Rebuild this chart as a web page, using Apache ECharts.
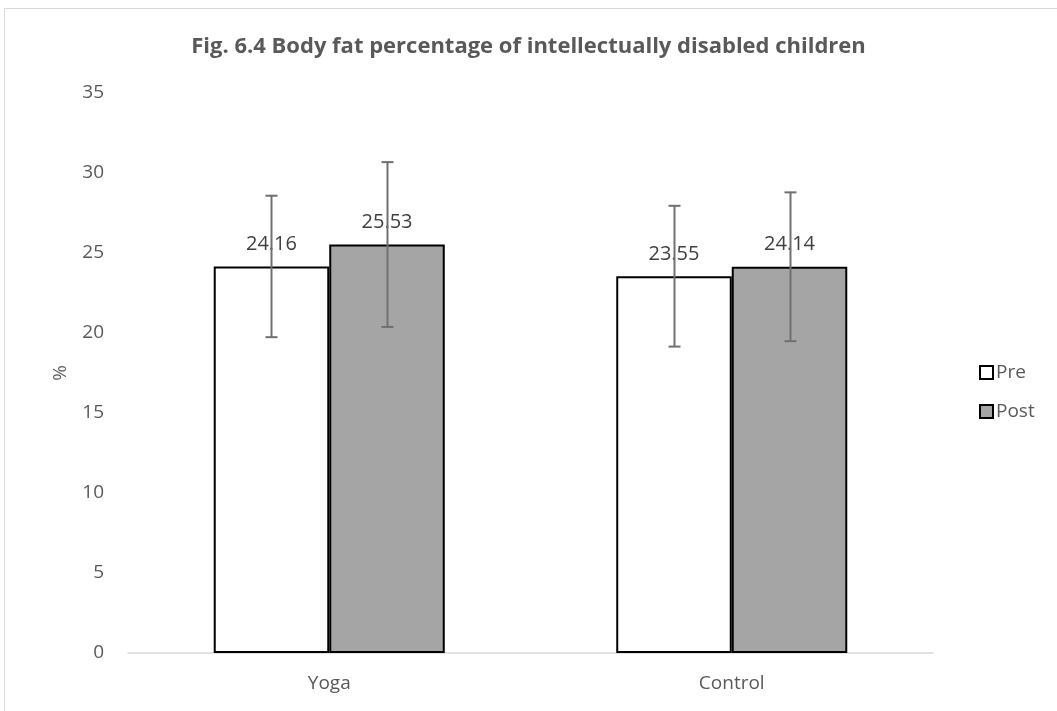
<!DOCTYPE html>
<html>
<head>
<meta charset="utf-8">
<script src="https://cdn.jsdelivr.net/npm/echarts@6/dist/echarts.min.js"></script>
<style>html,body{margin:0;padding:0;background:#fff;}#c{width:1057px;height:711px;}</style>
</head>
<body>
<div id="c"></div>
<script>
var categories = ['Yoga', 'Control'];
var seriesNames = ['Pre', 'Post'];
var preValues = [24.16, 23.55];
var postValues = [25.53, 24.14];
var preErrors = [4.42, 4.40];
var postErrors = [5.15, 4.65];
var yTicks = { min: 0, max: 35, interval: 5 };

var chart = echarts.init(document.getElementById('c'));
var FONT = '"Open Sans", "Liberation Sans", sans-serif';
var GAP = 0.426;

function errSeries(values, errors, idx) {
  return {
    type: 'custom',
    name: seriesNames[idx] + ' error',
    z: 10,
    silent: true,
    encode: { x: 0, y: 1 },
    data: values.map(function (v, i) { return [i, v, errors[i]]; }),
    renderItem: function (params, api) {
      var ci = api.value(0), v = api.value(1), e = api.value(2);
      var catW = api.size([1, 0])[0];
      var bw = catW * (1 - GAP) / 2;
      var off = (idx === 0 ? -1 : 1) * bw / 2;
      var top = api.coord([ci, v + e]);
      var bot = api.coord([ci, v - e]);
      var x = Math.round(top[0] + off) + 0.5;
      var cap = 6;
      var st = { stroke: '#707070', lineWidth: 2 };
      return {
        type: 'group',
        children: [
          { type: 'line', shape: { x1: x, y1: top[1], x2: x, y2: bot[1] }, style: st },
          { type: 'line', shape: { x1: x - cap, y1: top[1], x2: x + cap, y2: top[1] }, style: st },
          { type: 'line', shape: { x1: x - cap, y1: bot[1], x2: x + cap, y2: bot[1] }, style: st }
        ]
      };
    }
  };
}

var labelStyle = {
  show: true, position: 'top', distance: 12,
  color: '#404040', fontSize: 20, fontFamily: FONT
};

chart.setOption({
  animation: false,
  backgroundColor: '#fff',
  graphic: [{
    type: 'rect', silent: true, z: -10,
    shape: { x: 4.5, y: 8.5, width: 1200, height: 900 },
    style: { fill: 'none', stroke: '#d9d9d9', lineWidth: 1 }
  }],
  title: {
    text: 'Fig. 6.4 Body fat percentage of intellectually disabled children',
    left: 'center', top: 31,
    textStyle: { fontFamily: FONT, fontSize: 22, fontWeight: 'bold', color: '#595959' }
  },
  legend: {
    orient: 'vertical', left: 974, top: 358,
    itemWidth: 13, itemHeight: 13, itemGap: 20,
    icon: 'rect',
    data: seriesNames,
    textStyle: { fontFamily: FONT, fontSize: 19, color: '#595959', padding: [0, 0, 0, -2] }
  },
  grid: { left: 128, right: 124, top: 93, bottom: 58, containLabel: false },
  xAxis: {
    type: 'category', data: categories,
    axisTick: { show: false },
    axisLine: { lineStyle: { color: '#d9d9d9', width: 1.5 } },
    axisLabel: { color: '#595959', fontSize: 19, fontFamily: FONT, margin: 21 }
  },
  yAxis: {
    type: 'value', min: yTicks.min, max: yTicks.max, interval: yTicks.interval,
    name: '%', nameLocation: 'middle', nameGap: 58, nameRotate: 90,
    nameTextStyle: { color: '#595959', fontSize: 19, fontFamily: FONT },
    splitLine: { show: false },
    axisLine: { show: false },
    axisTick: { show: false },
    axisLabel: { color: '#595959', fontSize: 19, fontFamily: FONT, margin: 24 }
  },
  series: [
    {
      name: seriesNames[0], type: 'bar', data: preValues,
      barGap: '0%', barCategoryGap: (GAP * 100) + '%',
      itemStyle: { color: '#ffffff', borderColor: '#000000', borderWidth: 2 },
      label: labelStyle
    },
    {
      name: seriesNames[1], type: 'bar', data: postValues,
      barGap: '0%', barCategoryGap: (GAP * 100) + '%',
      itemStyle: { color: '#a5a5a5', borderColor: '#000000', borderWidth: 2 },
      label: labelStyle
    },
    errSeries(preValues, preErrors, 0),
    errSeries(postValues, postErrors, 1)
  ]
});
</script>
</body>
</html>
